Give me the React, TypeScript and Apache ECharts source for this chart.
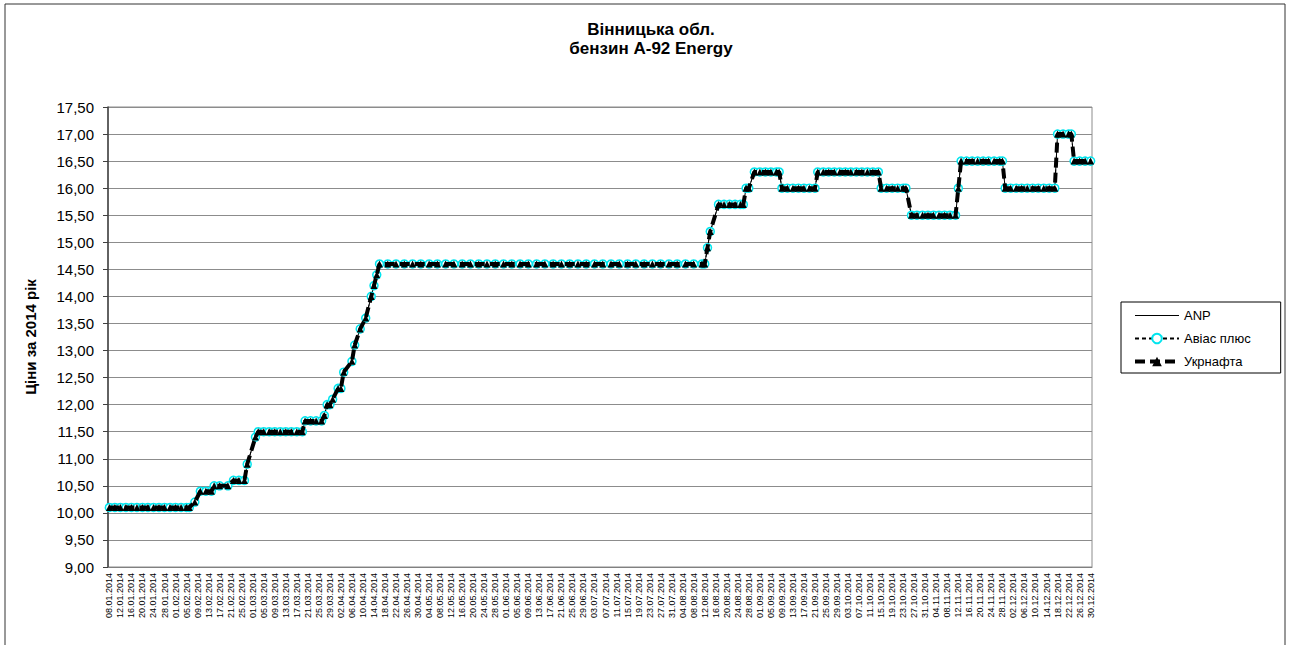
import React, { useEffect, useRef } from "react";
import * as echarts from "echarts";

// Axis categories: every day of the period (labels shown every 4th day)
const startDay = Date.UTC(2014, 0, 8);
const endDay = Date.UTC(2014, 11, 30);
const categories: string[] = [];
for (let t = startDay; t <= endDay; t += 86400000) {
  const d = new Date(t);
  const dd = String(d.getUTCDate()).padStart(2, "0");
  const mm = String(d.getUTCMonth() + 1).padStart(2, "0");
  categories.push(`${dd}.${mm}.${d.getUTCFullYear()}`);
}

const chartTitle = "Вінницька обл.\nбензин А-92 Energy";
const yAxisTitle = "Ціни за 2014 рік";
const seriesNames = ["ANP", "Авіас плюс", "Укрнафта"];

const obsDates: string[] = [
  "08.01.2014", "10.01.2014", "12.01.2014", "14.01.2014", "16.01.2014", "18.01.2014", "20.01.2014", "22.01.2014", "24.01.2014", "26.01.2014", "28.01.2014", "30.01.2014",
  "01.02.2014", "03.02.2014", "05.02.2014", "06.02.2014", "08.02.2014", "10.02.2014", "12.02.2014", "14.02.2014", "15.02.2014", "17.02.2014", "20.02.2014", "22.02.2014", "24.02.2014", "26.02.2014", "27.02.2014",
  "02.03.2014", "03.03.2014", "05.03.2014", "07.03.2014", "09.03.2014", "11.03.2014", "13.03.2014", "15.03.2014", "17.03.2014", "19.03.2014", "20.03.2014", "22.03.2014", "24.03.2014", "26.03.2014", "27.03.2014", "28.03.2014", "29.03.2014", "30.03.2014",
  "01.04.2014", "02.04.2014", "03.04.2014", "06.04.2014", "07.04.2014", "09.04.2014", "11.04.2014", "13.04.2014", "14.04.2014", "15.04.2014", "16.04.2014", "19.04.2014", "22.04.2014", "25.04.2014", "28.04.2014",
  "01.05.2014", "04.05.2014", "07.05.2014", "10.05.2014", "13.05.2014", "16.05.2014", "19.05.2014", "22.05.2014", "25.05.2014", "28.05.2014", "31.05.2014",
  "03.06.2014", "06.06.2014", "09.06.2014", "12.06.2014", "15.06.2014", "18.06.2014", "21.06.2014", "24.06.2014", "27.06.2014", "30.06.2014",
  "03.07.2014", "06.07.2014", "09.07.2014", "12.07.2014", "15.07.2014", "18.07.2014", "21.07.2014", "24.07.2014", "27.07.2014", "30.07.2014",
  "02.08.2014", "05.08.2014", "08.08.2014", "11.08.2014", "12.08.2014", "13.08.2014", "14.08.2014", "17.08.2014", "19.08.2014", "21.08.2014", "23.08.2014", "25.08.2014", "26.08.2014", "27.08.2014", "28.08.2014", "30.08.2014",
  "01.09.2014", "03.09.2014", "05.09.2014", "07.09.2014", "08.09.2014", "09.09.2014", "11.09.2014", "13.09.2014", "15.09.2014", "17.09.2014", "19.09.2014", "21.09.2014", "22.09.2014", "24.09.2014", "26.09.2014", "28.09.2014", "30.09.2014",
  "02.10.2014", "04.10.2014", "06.10.2014", "08.10.2014", "10.10.2014", "12.10.2014", "14.10.2014", "15.10.2014", "17.10.2014", "19.10.2014", "21.10.2014", "23.10.2014", "24.10.2014", "26.10.2014", "28.10.2014", "30.10.2014",
  "01.11.2014", "03.11.2014", "05.11.2014", "07.11.2014", "09.11.2014", "11.11.2014", "12.11.2014", "13.11.2014", "15.11.2014", "17.11.2014", "19.11.2014", "21.11.2014", "23.11.2014", "25.11.2014", "27.11.2014", "28.11.2014", "29.11.2014",
  "01.12.2014", "03.12.2014", "05.12.2014", "07.12.2014", "09.12.2014", "11.12.2014", "13.12.2014", "15.12.2014", "17.12.2014", "18.12.2014", "20.12.2014", "22.12.2014", "23.12.2014", "24.12.2014", "26.12.2014", "28.12.2014", "30.12.2014",
];

const prices: number[] = [
  10.1, 10.1, 10.1, 10.1, 10.1, 10.1, 10.1, 10.1, 10.1, 10.1, 10.1, 10.1,
  10.1, 10.1, 10.1, 10.1, 10.2, 10.4, 10.4, 10.4, 10.5, 10.5, 10.5, 10.6, 10.6, 10.6, 10.9,
  11.4, 11.5, 11.5, 11.5, 11.5, 11.5, 11.5, 11.5, 11.5, 11.5, 11.7, 11.7, 11.7, 11.7, 11.8, 12.0, 12.0, 12.1,
  12.3, 12.3, 12.6, 12.8, 13.1, 13.4, 13.6, 14.0, 14.2, 14.4, 14.6, 14.6, 14.6, 14.6, 14.6,
  14.6, 14.6, 14.6, 14.6, 14.6, 14.6, 14.6, 14.6, 14.6, 14.6, 14.6,
  14.6, 14.6, 14.6, 14.6, 14.6, 14.6, 14.6, 14.6, 14.6, 14.6,
  14.6, 14.6, 14.6, 14.6, 14.6, 14.6, 14.6, 14.6, 14.6, 14.6,
  14.6, 14.6, 14.6, 14.6, 14.6, 14.9, 15.2, 15.7, 15.7, 15.7, 15.7, 15.7, 15.7, 16.0, 16.0, 16.3,
  16.3, 16.3, 16.3, 16.3, 16.3, 16.0, 16.0, 16.0, 16.0, 16.0, 16.0, 16.0, 16.3, 16.3, 16.3, 16.3, 16.3,
  16.3, 16.3, 16.3, 16.3, 16.3, 16.3, 16.3, 16.0, 16.0, 16.0, 16.0, 16.0, 16.0, 15.5, 15.5, 15.5,
  15.5, 15.5, 15.5, 15.5, 15.5, 15.5, 16.0, 16.5, 16.5, 16.5, 16.5, 16.5, 16.5, 16.5, 16.5, 16.5, 16.0,
  16.0, 16.0, 16.0, 16.0, 16.0, 16.0, 16.0, 16.0, 16.0, 17.0, 17.0, 17.0, 17.0, 16.5, 16.5, 16.5, 16.5,
];

// The three networks' prices coincide in the picture
const anpPrices = prices;
const aviasPrices = prices;
const ukrnaftaPrices = prices;

const FONT = "'Liberation Sans', Arial, sans-serif";
const NARROW = "'Liberation Sans Narrow', 'Arial Narrow', 'Liberation Sans', Arial, sans-serif";

function toData(vals: number[]) {
  return obsDates.map((d, k) => [d, vals[k]]);
}

export default function App() {
  const ref = useRef<HTMLDivElement>(null);

  useEffect(() => {
    if (!ref.current) return;
    const chart = echarts.init(ref.current, undefined, { renderer: "svg" });
    chart.setOption({
      animation: false,
      backgroundColor: "#ffffff",
      textStyle: { fontFamily: FONT },
      title: {
        text: chartTitle,
        left: 646,
        top: 15,
        textAlign: "center",
        textStyle: {
          fontFamily: FONT,
          fontSize: 17,
          fontWeight: "bold",
          color: "#000",
          lineHeight: 19,
        },
      },
      legend: {
        data: [
          { name: seriesNames[0], icon: "path://M0,0 L44,0 L44,1.2 L0,1.2 Z" },
          { name: seriesNames[1] },
          {
            name: seriesNames[2],
            lineStyle: { width: 4, type: [10, 5], color: "#000" },
          },
        ],
        orient: "vertical",
        left: 1121,
        top: 302,
        padding: [7, 30, 5, 12],
        itemGap: 10,
        itemWidth: 44,
        itemHeight: 12,
        borderColor: "#000",
        borderWidth: 1,
        backgroundColor: "#fff",
        textStyle: { fontFamily: FONT, fontSize: 13, color: "#000" },
      },
      graphic: [
        {
          type: "rect",
          shape: { x: 5, y: 4, width: 1280, height: 700 },
          style: { fill: "none", stroke: "#333", lineWidth: 1 },
          silent: true,
        },
      ],
      grid: {
        left: 108,
        right: 200,
        top: 107,
        bottom: 78,
        show: true,
        borderColor: "#8c8c8c",
        borderWidth: 1,
        backgroundColor: "transparent",
      },
      xAxis: {
        type: "category",
        data: categories,
        boundaryGap: true,
        axisLine: { lineStyle: { color: "#808080", width: 1 } },
        axisTick: {
          interval: 3,
          alignWithLabel: true,
          length: 4,
          lineStyle: { color: "#606060" },
        },
        axisLabel: {
          interval: 3,
          rotate: 90,
          fontSize: 9,
          fontFamily: FONT,
          color: "#000",
          margin: 6,
        },
        splitLine: { show: false },
      },
      yAxis: {
        type: "value",
        min: 9,
        max: 17.5,
        interval: 0.5,
        name: yAxisTitle,
        nameLocation: "middle",
        nameGap: 70,
        nameTextStyle: {
          fontFamily: NARROW,
          fontSize: 15,
          fontWeight: "bold",
          color: "#000",
        },
        axisLine: { show: true, lineStyle: { color: "#404040", width: 1.5 } },
        axisTick: { show: true, length: 5, lineStyle: { color: "#404040" } },
        axisLabel: {
          fontSize: 15,
          fontFamily: FONT,
          color: "#000",
          margin: 14,
          formatter: (v: number) => v.toFixed(2).replace(".", ","),
        },
        splitLine: { show: true, lineStyle: { color: "#8c8c8c", width: 1 } },
      },
      series: [
        {
          name: seriesNames[0],
          type: "line",
          data: toData(anpPrices),
          symbol: "none",
          lineStyle: { color: "#000", width: 1, type: "solid" },
          itemStyle: { color: "#000" },
          z: 2,
        },
        {
          name: seriesNames[1],
          type: "line",
          data: toData(aviasPrices),
          symbol: "circle",
          symbolSize: 8,
          showAllSymbol: true,
          lineStyle: { color: "#000", width: 1, type: [4, 3] },
          itemStyle: { color: "#ffffff", borderColor: "#00e5ee", borderWidth: 1.5 },
          z: 3,
        },
        {
          name: seriesNames[2],
          type: "line",
          data: toData(ukrnaftaPrices),
          symbol: "triangle",
          symbolSize: 7,
          showAllSymbol: true,
          lineStyle: { color: "#000", width: 4, type: [10, 5] },
          itemStyle: { color: "#000" },
          z: 4,
        },
      ],
    });
    return () => chart.dispose();
  }, []);

  return (
    <div
      ref={ref}
      style={{ position: "fixed", left: 0, top: 0, width: 1292, height: 645, background: "#fff" }}
    />
  );
}
